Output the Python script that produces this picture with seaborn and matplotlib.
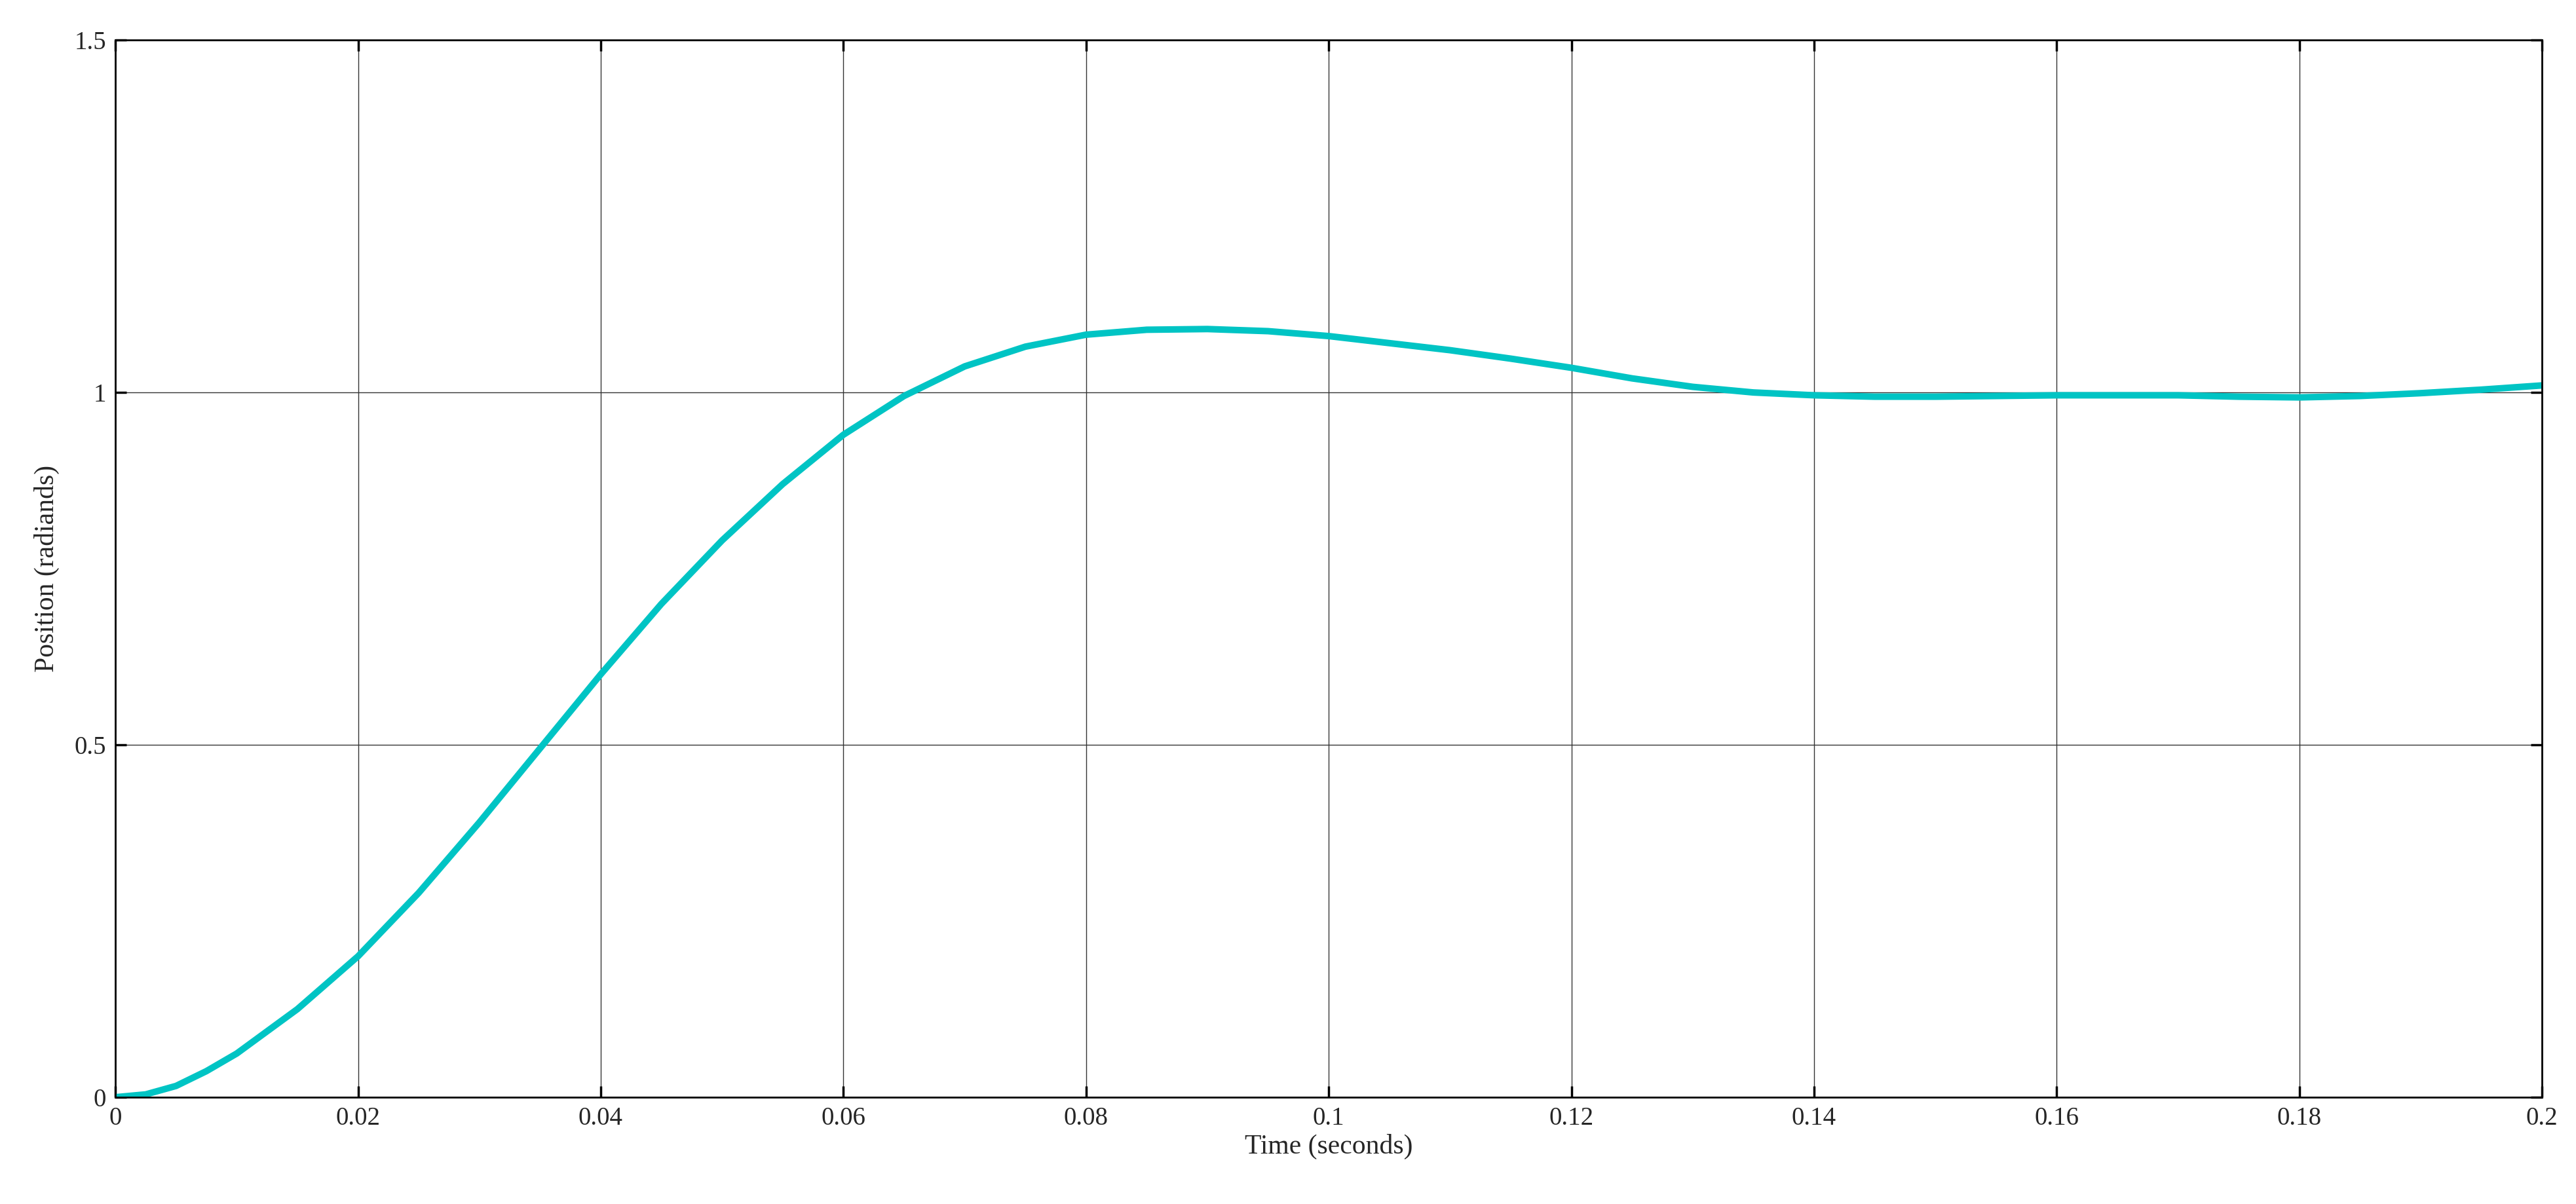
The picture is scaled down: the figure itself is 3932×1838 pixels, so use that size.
import matplotlib
matplotlib.use("Agg")
import matplotlib.pyplot as plt
import seaborn as sns
import pandas as pd

time_s = [0, 0.0025, 0.005, 0.0075, 0.01, 0.015, 0.02, 0.025, 0.03, 0.035, 0.04, 0.045, 0.05,
          0.055, 0.06, 0.065, 0.07, 0.075, 0.08, 0.085, 0.09, 0.095, 0.1, 0.105, 0.11, 0.115,
          0.12, 0.125, 0.13, 0.135, 0.14, 0.145, 0.15, 0.155, 0.16, 0.165, 0.17, 0.175, 0.18,
          0.185, 0.19, 0.195, 0.2]
position = [0, 0.004, 0.016, 0.037, 0.062, 0.125, 0.2, 0.29, 0.39, 0.495, 0.6, 0.7, 0.79,
            0.87, 0.94, 0.995, 1.037, 1.065, 1.082, 1.089, 1.09, 1.087, 1.08, 1.07, 1.06, 1.048,
            1.035, 1.02, 1.008, 1.0, 0.996, 0.994, 0.994, 0.995, 0.996, 0.996, 0.996, 0.994, 0.993,
            0.995, 0.999, 1.004, 1.01]
x_ticks = [0, 0.02, 0.04, 0.06, 0.08, 0.1, 0.12, 0.14, 0.16, 0.18, 0.2]
x_labels = ["0", "0.02", "0.04", "0.06", "0.08", "0.1", "0.12", "0.14", "0.16", "0.18", "0.2"]
y_ticks = [0, 0.5, 1, 1.5]
y_labels = ["0", "0.5", "1", "1.5"]

sns.set_theme(style="white")
plt.rcParams['font.family'] = ['Liberation Serif', 'DejaVu Serif']

fig = plt.figure(figsize=(19.66, 9.19), dpi=200)
ax = fig.add_axes([0.0448, 0.0887, 0.942, 0.878])
df = pd.DataFrame({"t": time_s, "p": position})
sns.lineplot(data=df, x="t", y="p", ax=ax, color="#00C4C4", linewidth=3.6,
             solid_joinstyle="round", solid_capstyle="round")
ax.set_xlim(0, 0.2)
ax.set_ylim(0, 1.5)
ax.set_xticks(x_ticks)
ax.set_xticklabels(x_labels)
ax.set_yticks(y_ticks)
ax.set_yticklabels(y_labels)
ax.grid(True, color="#333333", linewidth=0.5)
for s in ax.spines.values():
    s.set_color("black"); s.set_linewidth(1.0)
ax.tick_params(axis="both", labelsize=14, direction="in", length=6, color="black",
               top=True, right=True, bottom=True, left=True, pad=5)
ax.set_xlabel("Time (seconds)", fontsize=15, labelpad=2)
ax.set_ylabel("Position (radiands)", fontsize=15, labelpad=8)
fig.savefig("out.png", dpi=200, facecolor="white")
